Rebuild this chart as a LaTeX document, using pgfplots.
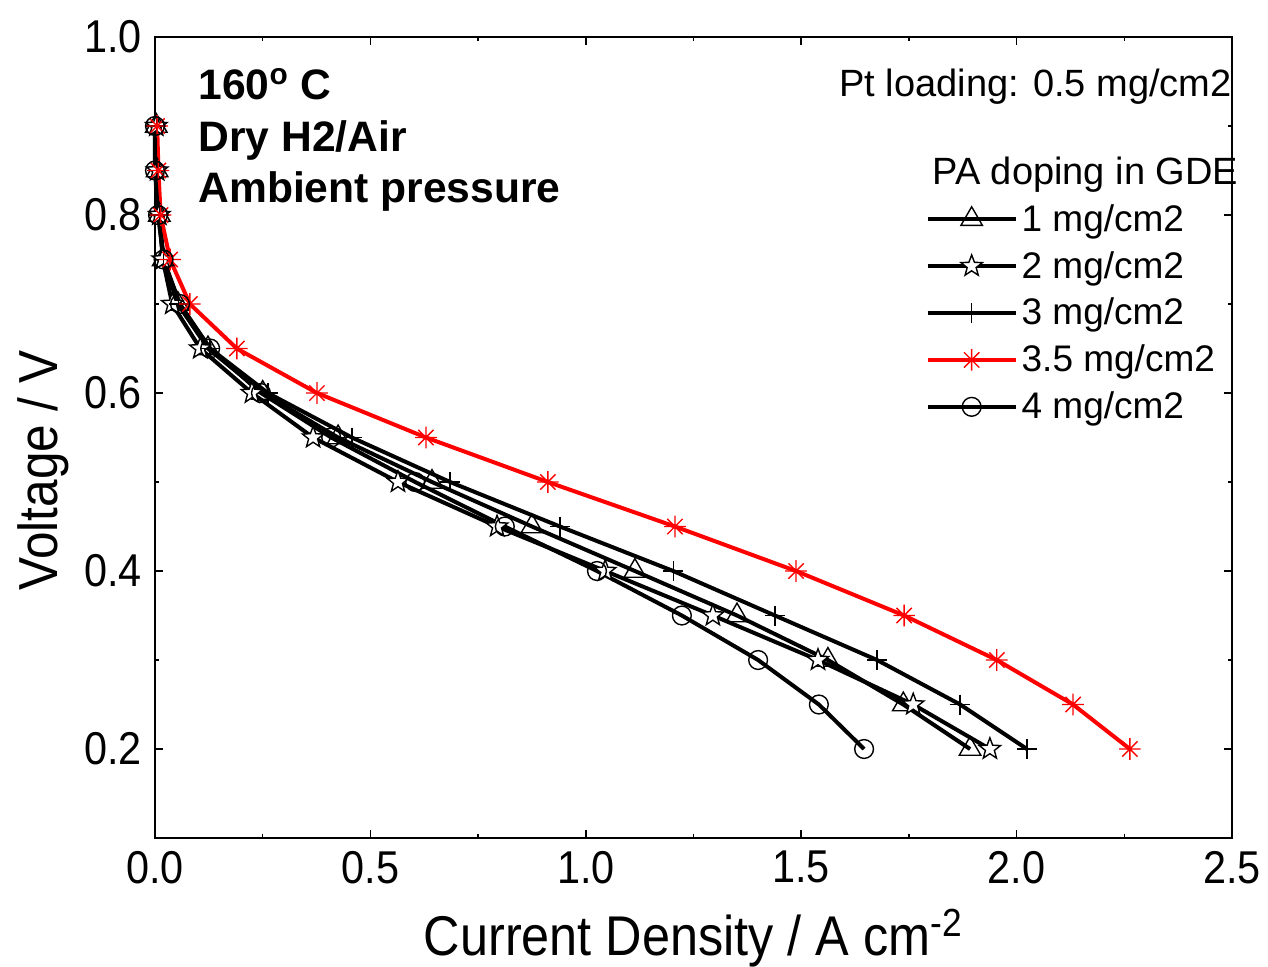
\documentclass[border=0pt]{standalone}
\usepackage{pgfplots}
\pgfplotsset{compat=1.18}
\usepackage{fontspec}
\setmainfont{Liberation Sans}
\newfontfamily\condfont[FakeStretch=0.9]{Liberation Sans}
\usetikzlibrary{plotmarks}
\pgfdeclareplotmark{pstar}{%
  \pgfpathmoveto{\pgfqpointpolar{90}{\pgfplotmarksize}}%
  \pgfpathlineto{\pgfqpointpolar{126}{0.42\pgfplotmarksize}}%
  \pgfpathlineto{\pgfqpointpolar{162}{\pgfplotmarksize}}%
  \pgfpathlineto{\pgfqpointpolar{198}{0.42\pgfplotmarksize}}%
  \pgfpathlineto{\pgfqpointpolar{234}{\pgfplotmarksize}}%
  \pgfpathlineto{\pgfqpointpolar{270}{0.42\pgfplotmarksize}}%
  \pgfpathlineto{\pgfqpointpolar{306}{\pgfplotmarksize}}%
  \pgfpathlineto{\pgfqpointpolar{342}{0.42\pgfplotmarksize}}%
  \pgfpathlineto{\pgfqpointpolar{18}{\pgfplotmarksize}}%
  \pgfpathlineto{\pgfqpointpolar{54}{0.42\pgfplotmarksize}}%
  \pgfpathclose
  \pgfusepathqfillstroke}
\pgfdeclareplotmark{ast8}{%
  \pgfpathmoveto{\pgfqpoint{-\pgfplotmarksize}{0pt}}\pgfpathlineto{\pgfqpoint{\pgfplotmarksize}{0pt}}%
  \pgfpathmoveto{\pgfqpoint{0pt}{-\pgfplotmarksize}}\pgfpathlineto{\pgfqpoint{0pt}{\pgfplotmarksize}}%
  \pgfpathmoveto{\pgfqpointpolar{45}{\pgfplotmarksize}}\pgfpathlineto{\pgfqpointpolar{225}{\pgfplotmarksize}}%
  \pgfpathmoveto{\pgfqpointpolar{135}{\pgfplotmarksize}}\pgfpathlineto{\pgfqpointpolar{315}{\pgfplotmarksize}}%
  \pgfusepathqstroke}
\begin{document}
\begin{tikzpicture}
\begin{axis}[
  scale only axis,
  width=538.5pt, height=400.5pt,
  xmin=0, xmax=2.5, ymin=0.1, ymax=1.0,
  xtick={0,0.5,...,2.5},
  ytick={0.2,0.4,0.6,0.8,1.0},
  minor xtick={0.25,0.75,...,2.25},
  minor ytick={0.3,0.5,0.7,0.9},
  tick align=inside,
  major tick length=4pt, minor tick length=2pt,
  every tick/.style={black, line width=0.8pt},
  axis line style={line width=1pt},
  /pgf/number format/fixed,
  /pgf/number format/fixed zerofill,
  /pgf/number format/precision=1,
  /pgf/number format/assume math mode=true,
  ticklabel style={font=\condfont\fontsize{23}{26}\selectfont},
  xticklabel style={yshift=-3pt},
  yticklabel style={xshift=-3pt},
  xlabel={Current Density / A cm\textsuperscript{-2}},
  ylabel={Voltage / V},
  xlabel style={font=\condfont\fontsize{28}{32}\selectfont, at={(axis description cs:0.5,0)}, anchor=base, yshift=-58.5pt},
  ylabel style={font=\condfont\fontsize{27.5}{32}\selectfont, at={([xshift=-48.5pt]axis description cs:0,0.459)}, anchor=base},
  legend style={draw=none, fill=none, at={(axis cs:1.788,0.817)}, anchor=north west,
    font=\fontsize{18.5}{22}\selectfont, row sep=4.55pt,
    legend cell align=left, inner sep=0pt},
  legend image code/.code={%
    \draw[mark repeat=2,mark phase=2] plot coordinates {(0pt,0pt) (22pt,0pt) (44pt,0pt)};},
  clip=false,
]
% 1 mg/cm2
\addplot[black, line width=2pt, mark=triangle, mark size=6.2pt, mark options={fill=white, line width=0.7pt}]
 coordinates {(0.003,0.9)(0.005,0.85)(0.01,0.8)(0.019,0.75)(0.053,0.7)(0.123,0.65)(0.25,0.6)(0.425,0.55)(0.643,0.5)(0.875,0.45)(1.114,0.4)(1.351,0.35)(1.562,0.3)(1.737,0.25)(1.892,0.2)};
\addlegendentry{1 mg/cm2}
% 2 mg/cm2
\addplot[black, line width=2pt, mark=pstar, mark size=5.6pt, mark options={fill=white, line width=0.7pt}]
 coordinates {(0.003,0.9)(0.005,0.85)(0.01,0.8)(0.018,0.75)(0.04,0.7)(0.105,0.65)(0.225,0.6)(0.367,0.55)(0.564,0.5)(0.794,0.45)(1.045,0.4)(1.295,0.35)(1.539,0.3)(1.76,0.25)(1.938,0.2)};
\addlegendentry{2 mg/cm2}
% 3 mg/cm2
\addplot[black, line width=2pt, mark=+, mark size=5pt, mark options={line width=0.7pt}]
 coordinates {(0.003,0.9)(0.005,0.85)(0.01,0.8)(0.02,0.75)(0.055,0.7)(0.128,0.65)(0.262,0.6)(0.457,0.55)(0.685,0.5)(0.94,0.45)(1.203,0.4)(1.439,0.35)(1.676,0.3)(1.869,0.25)(2.024,0.2)};
\addlegendentry{3 mg/cm2}
% 3.5 mg/cm2
\addplot[red, line width=2pt, mark=ast8, mark size=5.4pt, mark options={line width=0.7pt}]
 coordinates {(0.005,0.9)(0.008,0.85)(0.013,0.8)(0.035,0.75)(0.081,0.7)(0.19,0.65)(0.376,0.6)(0.629,0.55)(0.912,0.5)(1.207,0.45)(1.488,0.4)(1.739,0.35)(1.954,0.3)(2.131,0.25)(2.263,0.2)};
\addlegendentry{3.5 mg/cm2}
% 4 mg/cm2
\addplot[black, line width=2pt, mark=o, mark size=4.7pt, mark options={fill=white, line width=0.7pt}]
 coordinates {(0.0,0.9)(0.0,0.85)(0.007,0.8)(0.02,0.75)(0.058,0.7)(0.128,0.65)(0.246,0.6)(0.409,0.55)(0.604,0.5)(0.812,0.45)(1.026,0.4)(1.223,0.35)(1.40,0.3)(1.541,0.25)(1.646,0.2)};
\addlegendentry{4 mg/cm2}
\node[anchor=base west, inner sep=0pt, font=\fontsize{19}{22}\selectfont] at (axis cs:1.804,0.834) {PA doping in GDE};
\node[anchor=base east, inner sep=0pt, font=\fontsize{19}{22}\selectfont] at (axis cs:2.5,0.9327) {Pt loading: 0.5 mg/cm2};
\node[anchor=base west, inner sep=0pt, font=\bfseries\fontsize{21.3}{25}\selectfont] at (axis cs:0.1,0.9293) {160\textsuperscript{o} C};
\node[anchor=base west, inner sep=0pt, font=\bfseries\fontsize{21.3}{25}\selectfont] at (axis cs:0.1,0.871) {Dry H2/Air};
\node[anchor=base west, inner sep=0pt, font=\bfseries\fontsize{21.3}{25}\selectfont] at (axis cs:0.1,0.8137) {Ambient pressure};
\end{axis}
\pgfresetboundingbox
\path[use as bounding box] (-77.5pt,-64pt) rectangle (556.5pt,419pt);
\end{tikzpicture}
\end{document}
